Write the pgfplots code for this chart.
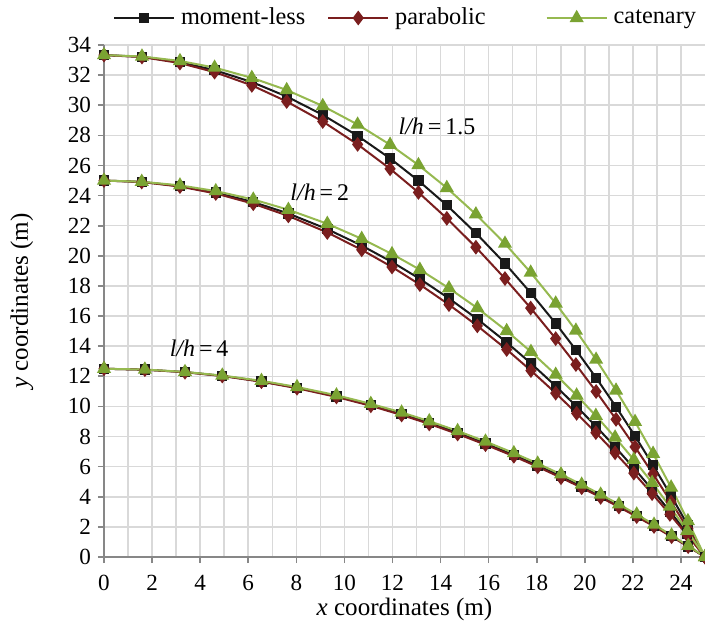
\documentclass[border=0pt]{standalone}
\usepackage{pgfplots}
\pgfplotsset{compat=1.18}
\usepackage{pgfplotstable}
\usepackage{fontspec}
\setmainfont{Liberation Serif}
\usetikzlibrary{calc}
\definecolor{momblack}{RGB}{25,25,25}
\definecolor{parred}{RGB}{122,30,30}
\definecolor{catgreen}{RGB}{150,185,80}
\definecolor{catmark}{RGB}{122,163,50}
\definecolor{gridgray}{RGB}{217,217,217}
\definecolor{axisgray}{RGB}{135,135,135}

% l/h = 1.5
\pgfplotstableread{
x m p c
0 33.33 33.33 33.33
1.58 33.22 33.20 33.24
3.16 32.86 32.80 32.94
4.60 32.33 32.20 32.50
6.15 31.54 31.32 31.82
7.60 30.58 30.25 31.01
9.10 29.36 28.92 29.95
10.55 27.97 27.40 28.72
11.90 26.47 25.78 27.38
13.08 24.99 24.21 26.03
14.26 23.36 22.49 24.51
15.47 21.51 20.57 22.76
16.68 19.49 18.49 20.81
17.75 17.54 16.53 18.89
18.79 15.51 14.50 16.84
19.63 13.75 12.78 15.04
20.47 11.90 10.99 13.11
21.30 9.97 9.14 11.06
22.09 8.03 7.31 8.98
22.84 6.09 5.51 6.86
23.59 4.07 3.65 4.62
24.29 2.09 1.87 2.39
25.00 0 0 0
}\lhA
% l/h = 2
\pgfplotstableread{
x m p c
0 25.00 25.00 25.00
1.57 24.91 24.90 24.92
3.16 24.63 24.60 24.68
4.65 24.20 24.14 24.30
6.21 23.57 23.46 23.74
7.67 22.81 22.65 23.06
9.29 21.77 21.55 22.13
10.72 20.68 20.40 21.13
11.98 19.59 19.26 20.12
13.14 18.47 18.09 19.08
14.35 17.17 16.76 17.85
15.53 15.80 15.35 16.53
16.75 14.25 13.78 15.01
17.76 12.86 12.38 13.63
18.79 11.35 10.88 12.11
19.66 9.99 9.54 10.73
20.46 8.69 8.26 9.38
21.26 7.31 6.92 7.94
22.04 5.91 5.57 6.46
22.80 4.48 4.21 4.93
23.54 3.03 2.83 3.35
24.26 1.57 1.46 1.74
25.00 0 0 0
}\lhB
% l/h = 4
\pgfplotstableread{
x m p c
0 12.50 12.50 12.50
1.70 12.44 12.44 12.45
3.37 12.28 12.27 12.29
4.92 12.03 12.02 12.05
6.55 11.66 11.64 11.70
8.03 11.24 11.21 11.29
9.67 10.67 10.63 10.74
11.10 10.09 10.04 10.17
12.38 9.50 9.43 9.60
13.53 8.91 8.84 9.02
14.71 8.25 8.17 8.37
15.87 7.54 7.46 7.67
17.05 6.77 6.69 6.90
18.04 6.08 5.99 6.21
19.01 5.36 5.27 5.49
19.87 4.68 4.60 4.81
20.66 4.04 3.96 4.15
21.42 3.39 3.32 3.50
22.16 2.74 2.68 2.83
22.88 2.08 2.03 2.15
23.61 1.39 1.35 1.44
24.30 0.71 0.69 0.74
25.00 0 0 0
}\lhC

\begin{document}
\begin{tikzpicture}
\begin{axis}[
  scale only axis, width=300.5bp, height=256bp,
  xmin=0, xmax=25, ymin=0, ymax=34,
  clip=false,
  axis x line*=bottom, axis y line*=left,
  xtick={0,2,...,24}, ytick={0,2,...,34},
  minor x tick num=1,
  minor tick length=0pt,
  major tick length=3bp,
  tick align=outside,
  xmajorgrids, xminorgrids, ymajorgrids,
  grid style={gridgray, line width=0.75bp},
  minor grid style={gridgray, line width=0.75bp},
  axis line style={axisgray, line width=0.8bp, -},
  major tick style={axisgray, line width=0.8bp},
  /pgf/number format/assume math mode=true,
  tick label style={font=\fontsize{11.6}{13}\selectfont},
  xticklabel style={yshift=-2.5bp},
  xlabel={\textit{x} coordinates (m)},
  ylabel={\textit{y} coordinates (m)},
  every axis x label/.style={at={(axis description cs:0.5,-0.1133)}, anchor=base, font=\fontsize{12.6}{14}\selectfont},
  every axis y label/.style={at={(axis description cs:-0.1265,0.5)}, rotate=90, anchor=base, font=\fontsize{12.6}{14}\selectfont},
  legend columns=3,
  legend style={at={(0.505,1.0527)}, anchor=center, draw=none, fill=none,
    font=\fontsize{12.2}{14}\selectfont, nodes={inner ysep=2bp, inner xsep=3bp},
    /tikz/column 2/.style={column sep=8bp},
    /tikz/column 4/.style={column sep=27bp}},
  legend image code/.code={\draw[mark repeat=2,mark phase=2,#1] plot coordinates {(0bp,0bp) (15bp,0bp) (30bp,0bp)};},
  every axis plot/.append style={line width=1bp},
]
\addplot[momblack, mark=square*, mark size=2.1bp, mark options={fill=momblack}] table[x=x,y=m]{\lhA};
\addlegendentry{moment-less}
\addplot[parred, mark=diamond*, mark size=2.9bp, mark options={fill=parred}] table[x=x,y=p]{\lhA};
\addlegendentry{parabolic}
\addplot[catgreen, mark=triangle*, mark size=3.1bp, mark options={fill=catmark, draw=catmark}] table[x=x,y=c]{\lhA};
\addlegendentry{catenary}

\addplot[forget plot, momblack, mark=square*, mark size=2.1bp, mark options={fill=momblack}] table[x=x,y=m]{\lhB};
\addplot[forget plot, parred, mark=diamond*, mark size=2.9bp, mark options={fill=parred}] table[x=x,y=p]{\lhB};
\addplot[forget plot, catgreen, mark=triangle*, mark size=3.1bp, mark options={fill=catmark, draw=catmark}] table[x=x,y=c]{\lhB};

\addplot[forget plot, momblack, mark=square*, mark size=2.1bp, mark options={fill=momblack}] table[x=x,y=m]{\lhC};
\addplot[forget plot, parred, mark=diamond*, mark size=2.9bp, mark options={fill=parred}] table[x=x,y=p]{\lhC};
\addplot[forget plot, catgreen, mark=triangle*, mark size=3.1bp, mark options={fill=catmark, draw=catmark}] table[x=x,y=c]{\lhC};

\node[font=\fontsize{12}{14}\selectfont, anchor=base west, inner sep=0pt] at (axis cs:12.24,28.07) {\textit{l/h}\,=\,1.5};
\node[font=\fontsize{12}{14}\selectfont, anchor=base west, inner sep=0pt] at (axis cs:7.74,23.66) {\textit{l/h}\,=\,2};
\node[font=\fontsize{12}{14}\selectfont, anchor=base west, inner sep=0pt] at (axis cs:2.72,13.3) {\textit{l/h}\,=\,4};
\end{axis}
\pgfresetboundingbox
\path[use as bounding box] ($(current axis.south west)+(-52bp,-32bp)$) rectangle ($(current axis.north east)+(0bp,22.5bp)$);
\end{tikzpicture}
\end{document}
